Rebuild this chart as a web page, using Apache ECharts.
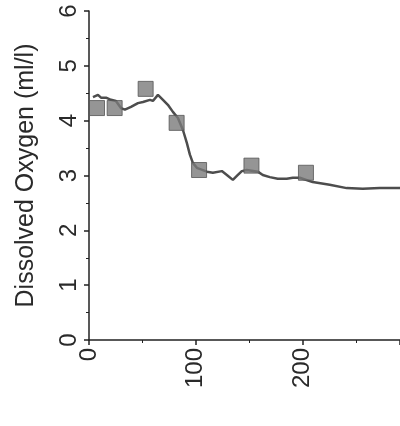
<!DOCTYPE html>
<html>
<head>
<meta charset="utf-8">
<script src="https://cdn.jsdelivr.net/npm/echarts@6/dist/echarts.min.js"></script>
<style>
html,body{margin:0;padding:0;background:#fff;}
#c{width:400px;height:426px;}
</style>
</head>
<body>
<div id="c"></div>
<script>
// Profile line: x vs dissolved oxygen (ml/l)
var lineX = [3.7, 8.4, 11.2, 15.9, 20.6, 25.2, 29.9, 33.6, 39.3, 45.8, 50.5, 57.0, 59.8, 64.5, 69.2, 73.8, 78.5, 83.2, 87.9, 91.6, 94.4, 97.2, 100.9, 110.3, 115.9, 124.3, 129.0, 134.6, 139.3, 143.0, 147.7, 158.0, 162.6, 169.2, 176.6, 185.0, 190.7, 197.2, 209.3, 225.2, 241.1, 256.1, 272.0, 291.0];
var lineY = [4.43, 4.47, 4.42, 4.42, 4.38, 4.36, 4.23, 4.20, 4.25, 4.32, 4.34, 4.38, 4.36, 4.47, 4.38, 4.29, 4.16, 4.05, 3.83, 3.59, 3.38, 3.23, 3.14, 3.07, 3.05, 3.08, 3.01, 2.92, 3.01, 3.08, 3.10, 3.07, 3.01, 2.97, 2.94, 2.94, 2.96, 2.96, 2.88, 2.83, 2.77, 2.76, 2.77, 2.77];
// Discrete samples (square markers)
var sampleX = [7.5, 24, 53, 82, 103, 152, 203];
var sampleY = [4.23, 4.23, 4.58, 3.96, 3.10, 3.18, 3.05];
var yTicks = [0, 1, 2, 3, 4, 5, 6];
var xTicks = [0, 100, 200];
var xMax = 291; // axis continues past the cropped right edge
var yTitle = 'Dissolved Oxygen (ml/l)';

var lineData = lineX.map(function (x, i) { return [x, lineY[i]]; });
var sampleData = sampleX.map(function (x, i) { return [x, sampleY[i]]; });

var chart = echarts.init(document.getElementById('c'), null, {renderer: 'canvas'});
var font = '"Liberation Sans", Arial, sans-serif';
chart.setOption({
  backgroundColor: '#ffffff',
  animation: false,
  grid: {left: 89, top: 11, bottom: 86, right: 0, containLabel: false},
  xAxis: {
    type: 'value',
    min: xTicks[0], max: xMax, interval: 100,
    axisLine: {show: true, onZero: false, lineStyle: {color: '#222', width: 1.5}},
    axisTick: {show: true, inside: false, length: 5, lineStyle: {color: '#222', width: 1.5}},
    minorTick: {show: true, splitNumber: 2, length: 3, lineStyle: {color: '#222', width: 1}},
    splitLine: {show: false},
    axisLabel: {rotate: 90, margin: 8, fontSize: 24, color: '#2a2a2a', fontFamily: font, showMaxLabel: false,
      formatter: function (v) { return xTicks.indexOf(v) >= 0 ? String(v) : ''; }}
  },
  yAxis: {
    type: 'value',
    min: yTicks[0], max: yTicks[yTicks.length - 1], interval: 1,
    name: yTitle, nameLocation: 'middle', nameRotate: 90, nameGap: 50,
    nameTextStyle: {fontSize: 25, color: '#2a2a2a', fontFamily: font},
    axisLine: {show: true, onZero: false, lineStyle: {color: '#222', width: 1.5}},
    axisTick: {show: true, inside: false, length: 5, lineStyle: {color: '#222', width: 1.5}},
    minorTick: {show: true, splitNumber: 2, length: 3, lineStyle: {color: '#222', width: 1}},
    splitLine: {show: false},
    axisLabel: {rotate: 90, margin: 8, fontSize: 24, color: '#2a2a2a', fontFamily: font}
  },
  series: [
    {
      type: 'line', data: lineData, showSymbol: false, smooth: false,
      lineStyle: {color: '#4d4d4d', width: 2.5}, z: 2
    },
    {
      type: 'scatter', data: sampleData, symbol: 'rect', symbolSize: 15,
      itemStyle: {color: '#7a7a7a', borderColor: '#555', borderWidth: 1}, z: 3
    }
  ]
});
</script>
</body>
</html>
